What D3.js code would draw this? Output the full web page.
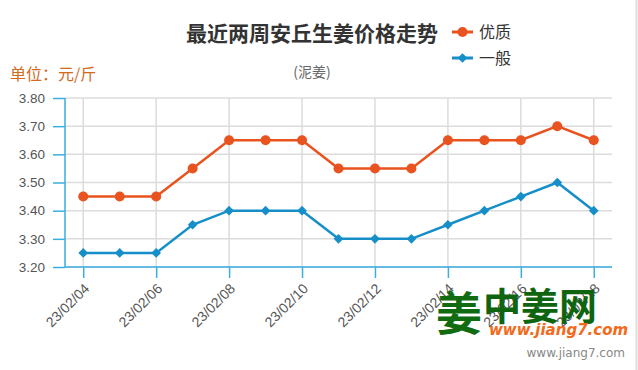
<!DOCTYPE html>
<html>
<head>
<meta charset="utf-8">
<script src="https://cdn.jsdelivr.net/npm/d3@7"></script>
<style>
  body { margin: 0; background: #fff; }
  svg { display: block; font-family: "DejaVu Sans", sans-serif; }
</style>
</head>
<body>
<div id="chart"></div>
<script>
// 日期（横轴类别）
const dates = ["23/02/04", "23/02/05", "23/02/06", "23/02/07", "23/02/08", "23/02/09", "23/02/10",
  "23/02/11", "23/02/12", "23/02/13", "23/02/14", "23/02/15", "23/02/16", "23/02/17", "23/02/18"];
// 优质
const goodPrices = [3.45, 3.45, 3.45, 3.55, 3.65, 3.65, 3.65, 3.55, 3.55, 3.55, 3.65, 3.65, 3.65, 3.70, 3.65];
// 一般
const normalPrices = [3.25, 3.25, 3.25, 3.35, 3.40, 3.40, 3.40, 3.30, 3.30, 3.30, 3.35, 3.40, 3.45, 3.50, 3.40];
const yTicks = [3.2, 3.3, 3.4, 3.5, 3.6, 3.7, 3.8];
const seriesNames = ["优质", "一般"];

const W = 638, H = 370;
const pLeft = 65, pRight = 612, pTop = 98, pBottom = 267;
const orange = "#e9531f", blue = "#168fc9", axisBlue = "#3aaee0";

const svg = d3.select("#chart").append("svg").attr("width", W).attr("height", H);

const x = d3.scalePoint().domain(dates).range([pLeft, pRight]).padding(0.5);
const y = d3.scaleLinear().domain([3.2, 3.8]).range([pBottom, pTop]);

const labeled = dates.filter((d, i) => i % 2 === 0);

// 网格
svg.append("g")
  .selectAll("line")
  .data(yTicks)
  .join("line")
  .attr("x1", pLeft).attr("x2", pRight)
  .attr("y1", d => y(d)).attr("y2", d => y(d))
  .attr("stroke", "#dcdcdc").attr("stroke-width", 1.5);

svg.append("g")
  .selectAll("line")
  .data(labeled)
  .join("line")
  .attr("x1", d => x(d)).attr("x2", d => x(d))
  .attr("y1", pTop).attr("y2", pBottom)
  .attr("stroke", "#dcdcdc").attr("stroke-width", 1.5);

// 坐标轴
const yAxis = svg.append("g")
  .attr("transform", `translate(${pLeft},0)`)
  .call(d3.axisLeft(y).tickValues(yTicks).tickFormat(d3.format(".2f")).tickSize(12).tickPadding(8));
yAxis.select(".domain").attr("stroke", axisBlue).attr("stroke-width", 1.5).attr("d", `M0,${pTop}V${pBottom}`);
yAxis.selectAll(".tick line").attr("stroke", axisBlue).attr("stroke-width", 1.5);
yAxis.selectAll(".tick text").attr("fill", "#555").style("font-size", "13.5px");

const xAxis = svg.append("g")
  .attr("transform", `translate(0,${pBottom})`)
  .call(d3.axisBottom(x).tickValues(labeled).tickSize(11).tickPadding(4));
xAxis.select(".domain").attr("stroke", axisBlue).attr("stroke-width", 1.5).attr("d", `M${pLeft},0H${pRight}`);
xAxis.selectAll(".tick line").attr("stroke", axisBlue).attr("stroke-width", 1.5);
xAxis.selectAll(".tick text")
  .attr("fill", "#555")
  .style("font-size", "14px")
  .attr("text-anchor", "end")
  .attr("x", 0).attr("y", 0)
  .attr("dy", "0.35em")
  .attr("transform", "translate(3,19) rotate(-45)");

// 折线
const line = d3.line().x((d, i) => x(dates[i])).y(d => y(d));

svg.append("path").datum(goodPrices)
  .attr("fill", "none").attr("stroke", orange).attr("stroke-width", 2.5).attr("d", line);
svg.append("path").datum(normalPrices)
  .attr("fill", "none").attr("stroke", blue).attr("stroke-width", 2.5).attr("d", line);

svg.append("g").selectAll("circle")
  .data(goodPrices)
  .join("circle")
  .attr("cx", (d, i) => x(dates[i])).attr("cy", d => y(d))
  .attr("r", 5).attr("fill", orange);

const diamond = d3.symbol().type(d3.symbolDiamond2).size(60);
svg.append("g").selectAll("path")
  .data(normalPrices)
  .join("path")
  .attr("d", diamond)
  .attr("transform", (d, i) => `translate(${x(dates[i])},${y(d)})`)
  .attr("fill", blue);

// 标题
svg.append("text").attr("x", 312).attr("y", 41).attr("text-anchor", "middle")
  .style("font-family", "'Noto Sans CJK SC'").style("font-size", "21px").style("font-weight", "bold")
  .attr("fill", "#333").text("最近两周安丘生姜价格走势");
svg.append("text").attr("x", 312).attr("y", 77).attr("text-anchor", "middle")
  .style("font-family", "'Noto Sans CJK SC'").style("font-size", "14px")
  .attr("fill", "#666").text("(泥姜)");
svg.append("text").attr("x", 10).attr("y", 80)
  .style("font-family", "'Noto Sans CJK SC'").style("font-size", "16px")
  .attr("fill", "#d2691e").text("单位：元/斤");

// 图例
const legend = svg.append("g").attr("transform", "translate(452,32)");
seriesNames.forEach((name, i) => {
  const g = legend.append("g").attr("transform", `translate(0,${i * 26})`);
  const c = i === 0 ? orange : blue;
  g.append("line").attr("x1", 0).attr("x2", 21).attr("stroke", c).attr("stroke-width", 3);
  if (i === 0) g.append("circle").attr("cx", 10.5).attr("r", 5).attr("fill", c);
  else g.append("path").attr("d", diamond).attr("transform", "translate(10.5,0)").attr("fill", c);
  g.append("text").attr("x", 27).attr("y", 6)
    .style("font-family", "'Noto Sans CJK SC'").style("font-size", "16px")
    .attr("fill", "#333").text(name);
});

// 水印
const wm = svg.append("g");
wm.append("text").attr("x", 436).attr("y", 330)
  .style("font-family", "'Noto Sans CJK SC'").style("font-size", "46px").style("font-weight", "bold")
  .attr("fill", "#116b11").text("姜");
wm.append("text").attr("x", 483).attr("y", 320)
  .style("font-family", "'Noto Sans CJK SC'").style("font-size", "38px").style("font-weight", "bold")
  .attr("fill", "#0f650f").text("中姜网");
wm.append("text").attr("x", 489).attr("y", 335)
  .style("font-family", "'DejaVu Sans'").style("font-size", "15px").style("font-weight", "bold").style("font-style", "italic")
  .attr("fill", "#f26a1b").text("www.jiang7.com");
svg.append("text").attr("x", 625).attr("y", 357).attr("text-anchor", "end")
  .style("font-family", "'DejaVu Sans'").style("font-size", "12px")
  .attr("fill", "#888").text("www.jiang7.com");

// 右边框
svg.append("line").attr("x1", 636.5).attr("x2", 636.5).attr("y1", 0).attr("y2", H)
  .attr("stroke", "#ddd").attr("stroke-width", 2);
</script>
</body>
</html>
